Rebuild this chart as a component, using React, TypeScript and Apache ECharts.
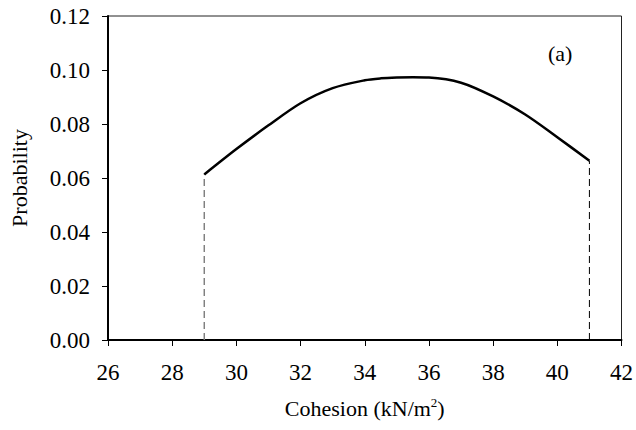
import React, { useEffect, useRef } from "react";
import * as echarts from "echarts";

const cohesion = [29, 30, 31, 32, 33, 34, 34.5, 35, 35.5, 36, 37, 38, 39, 40, 41];
const probability = [0.0613, 0.0707, 0.0795, 0.0877, 0.0933, 0.0962, 0.0969, 0.0972, 0.0973, 0.0972, 0.0953, 0.0902, 0.0835, 0.0751, 0.0664];
const xTicks = { min: 26, max: 42, step: 2 };
const yTicks = { min: 0, max: 0.12, step: 0.02 };
const leftBound = [29, 0.0613];
const rightBound = [41, 0.0664];

const FONT = "Liberation Serif";

export default function App() {
  const ref = useRef<HTMLDivElement>(null);
  useEffect(() => {
    if (!ref.current) return;
    const chart = echarts.init(ref.current, undefined, { renderer: "svg" });
    const curve = cohesion.map((c, i) => [c, probability[i]]);
    chart.setOption({
      animation: false,
      backgroundColor: "#ffffff",
      textStyle: { fontFamily: FONT },
      grid: {
        left: 104,
        right: 12,
        top: 16,
        bottom: 90,
        show: true,
        borderColor: "#222",
        borderWidth: 1,
        backgroundColor: "transparent",
      },
      xAxis: {
        type: "value",
        min: xTicks.min,
        max: xTicks.max,
        interval: xTicks.step,
        name: "Cohesion (kN/m{sup|2})",
        nameLocation: "middle",
        nameGap: 56,
        nameTextStyle: {
          fontFamily: FONT,
          fontSize: 22,
          color: "#000",
          rich: {
            sup: { fontFamily: FONT, fontSize: 13, color: "#000", verticalAlign: "top", padding: [0, 0, 12, 0] },
          },
        },
        axisLine: { show: true, onZero: false, lineStyle: { color: "#000", width: 2 } },
        axisTick: { show: true, inside: false, length: 6, lineStyle: { color: "#000", width: 1 } },
        axisLabel: { margin: 21, fontFamily: FONT, fontSize: 23, color: "#000" },
        splitLine: { show: false },
      },
      yAxis: {
        type: "value",
        min: yTicks.min,
        max: yTicks.max,
        interval: yTicks.step,
        name: "Probability",
        nameLocation: "middle",
        nameGap: 78,
        nameRotate: 90,
        nameTextStyle: { fontFamily: FONT, fontSize: 22, color: "#000" },
        axisLine: { show: true, onZero: false, lineStyle: { color: "#000", width: 2 } },
        axisTick: { show: true, inside: false, length: 6, lineStyle: { color: "#000", width: 1 } },
        axisLabel: {
          margin: 18,
          fontFamily: FONT,
          fontSize: 23,
          color: "#000",
          formatter: (v: number) => v.toFixed(2),
        },
        splitLine: { show: false },
      },
      graphic: [
        {
          type: "text",
          left: 548,
          top: 42,
          style: { text: "(a)", fontFamily: FONT, fontSize: 22, fill: "#000" },
        },
      ],
      series: [
        {
          type: "line",
          data: curve,
          showSymbol: false,
          smooth: 0.3,
          lineStyle: { color: "#000", width: 2.5 },
          z: 3,
        },
        {
          type: "line",
          data: [[leftBound[0], 0], leftBound],
          showSymbol: false,
          lineStyle: { color: "#808080", width: 1.5, type: [7, 4] },
          z: 2,
        },
        {
          type: "line",
          data: [[rightBound[0], 0], rightBound],
          showSymbol: false,
          lineStyle: { color: "#000", width: 1, type: [7, 4] },
          z: 2,
        },
      ],
    });
    return () => chart.dispose();
  }, []);
  return (
    <div
      ref={ref}
      style={{ position: "fixed", left: 0, top: 0, width: 636, height: 430 }}
    />
  );
}
